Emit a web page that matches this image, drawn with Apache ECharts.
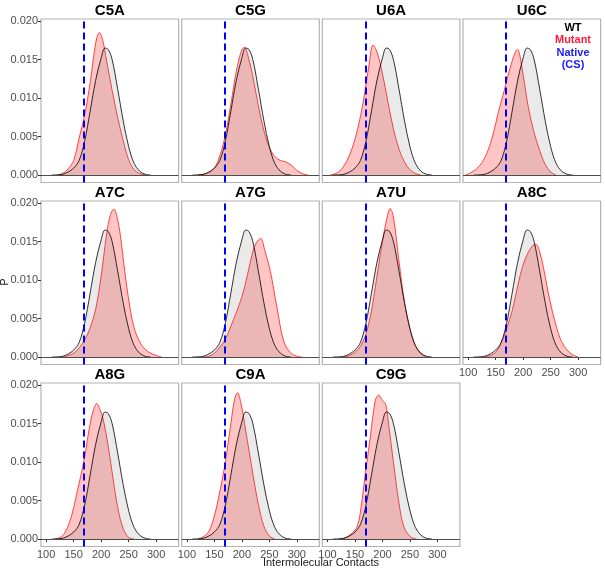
<!DOCTYPE html>
<html>
<head>
<meta charset="utf-8">
<script src="https://cdn.jsdelivr.net/npm/echarts@6/dist/echarts.min.js"></script>
<style>html,body{margin:0;padding:0;background:#fff}#c{width:605px;height:570px}</style>
</head>
<body>
<div id="c"></div>
<script>
// ---- data ----
const panelNames = ['C5A','C5G','U6A','U6C','A7C','A7G','A7U','A8C','A8G','C9A','C9G'];
const nativeCS = 169;
const xTicks = [100,150,200,250,300];
const yTicks = [0,0.005,0.010,0.015,0.020];

const wtX = [110,120,130,140,150,160,170,180,190,200,207,213,220,230,240,250,260,270,280,290];
const wtY = [0,0.00002,0.0001,0.0004,0.0009,0.0019,0.0044,0.0083,0.0123,0.0152,0.0165,0.0163,0.0150,0.0112,0.0071,0.0037,0.0015,0.0005,0.0001,0];

const xC5A = [120,130,140,150,160,170,180,186,192,197,203,210,220,230,240,250,260,270,280];
const yC5A = [0,0.0002,0.0008,0.0019,0.0048,0.0078,0.0120,0.0152,0.0178,0.0185,0.0175,0.0148,0.0110,0.0075,0.0045,0.0020,0.0007,0.0002,0];
const xC5G = [120,130,140,150,160,170,180,190,200,205,210,220,230,240,250,260,270,280,290,300,310,320];
const yC5G = [0,0.0001,0.0003,0.0009,0.0025,0.0052,0.0092,0.0135,0.0163,0.0166,0.0158,0.0128,0.0090,0.0058,0.0036,0.0024,0.0019,0.0017,0.0013,0.0006,0.0002,0];
const xU6A = [105,115,125,135,145,155,165,175,183,190,200,210,220,230,240,250,260,270];
const yU6A = [0,0.0002,0.0007,0.0018,0.0035,0.0060,0.0095,0.0140,0.0169,0.0160,0.0132,0.0095,0.0060,0.0034,0.0017,0.0007,0.0002,0];
const xU6C = [95,105,115,125,135,145,155,165,172,180,186,190,195,200,210,220,230,240,250,260];
const yU6C = [0,0.0003,0.0008,0.0016,0.0030,0.0052,0.0082,0.0108,0.0128,0.0148,0.0160,0.0163,0.0152,0.0130,0.0086,0.0055,0.0032,0.0014,0.0004,0];
const xA7C = [130,140,150,160,170,180,190,200,210,217,223,228,235,243,252,260,270,280,290,300,310];
const yA7C = [0,0.0002,0.0005,0.0012,0.0022,0.0038,0.0062,0.0105,0.0160,0.0185,0.0192,0.0185,0.0158,0.0111,0.0066,0.0038,0.0020,0.0010,0.0005,0.0002,0];
const xA7G = [130,140,150,160,170,180,190,200,210,220,226,234,242,252,264,276,288,300,310];
const yA7G = [0,0.0001,0.0005,0.0013,0.0023,0.0040,0.0058,0.0078,0.0106,0.0137,0.0148,0.0154,0.0138,0.0111,0.0064,0.0021,0.0006,0.0001,0];
const xA7U = [130,140,150,160,170,180,190,200,208,214,220,230,240,250,260,270,280];
const yA7U = [0,0.0002,0.0006,0.0014,0.0030,0.0060,0.0105,0.0150,0.0180,0.0193,0.0182,0.0125,0.0072,0.0036,0.0014,0.0004,0];
const xA8C = [130,140,150,160,170,180,190,200,210,218,224,230,237,249,261,270,280,290,300];
const yA8C = [0,0.0002,0.0006,0.0018,0.0037,0.0060,0.0092,0.0120,0.0137,0.0145,0.0146,0.0137,0.0116,0.0072,0.0038,0.0020,0.0009,0.0003,0];
const xA8G = [115,122,132,144,156,169,180,187,192,198,204,213,222,231,240,250,260];
const yA8G = [0,0.0001,0.0006,0.0025,0.0060,0.0103,0.0150,0.0170,0.0176,0.0168,0.0155,0.0120,0.0077,0.0038,0.0014,0.0002,0];
const xC9A = [120,130,140,150,160,170,180,187,192,198,205,210,220,230,240,250,260];
const yC9A = [0,0.0003,0.0010,0.0030,0.0062,0.0100,0.0150,0.0182,0.0190,0.0178,0.0150,0.0128,0.0085,0.0045,0.0017,0.0004,0];
const xC9G = [120,130,142,154,163,169,178,187,193,200,206,212,220,230,239,251,262];
const yC9G = [0,0.0001,0.0006,0.0016,0.0051,0.0086,0.0133,0.0180,0.0187,0.0180,0.0175,0.0145,0.0100,0.0047,0.0016,0.0003,0];

const mutX = [xC5A,xC5G,xU6A,xU6C,xA7C,xA7G,xA7U,xA8C,xA8G,xC9A,xC9G];
const mutY = [yC5A,yC5G,yU6A,yU6C,yA7C,yA7G,yA7U,yA8C,yA8G,yC9A,yC9G];

// ---- layout ----
const FONT = 'Liberation Sans, Arial, Helvetica, sans-serif';
const colLeft = [41, 181.7, 322.3, 463];
const rowTop = [19, 201, 383];
const PW = 137.6, PH = 163.5;
const XMIN = 90.6, XMAX = 340.9, YMIN = -0.00097, YMAX = 0.02027;
const xLabelPanels = [7, 8, 9, 10];

const zip = (a, b) => a.map((v, i) => [v, b[i]]);

const grids = [], xAxes = [], yAxes = [], series = [], graphics = [];
panelNames.forEach((name, i) => {
  const col = i % 4, row = Math.floor(i / 4);
  const left = colLeft[col], top = rowTop[row];
  grids.push({left: left, top: top, width: PW, height: PH, show: true,
    borderColor: '#b3b3b3', borderWidth: 1.2, backgroundColor: 'transparent', containLabel: false});
  const showX = xLabelPanels.includes(i);
  const showY = col === 0;
  xAxes.push({type: 'value', gridIndex: i, min: XMIN, max: XMAX,
    axisLine: {show: false}, splitLine: {show: false},
    axisTick: {show: showX, length: 3, lineStyle: {color: '#333', width: 1}, customValues: xTicks},
    axisLabel: {show: showX, customValues: xTicks, margin: 3, color: '#4d4d4d', fontSize: 11, fontFamily: FONT}});
  yAxes.push({type: 'value', gridIndex: i, min: YMIN, max: YMAX,
    axisLine: {show: false}, splitLine: {show: false},
    axisTick: {show: showY, length: 3, lineStyle: {color: '#333', width: 1}, customValues: yTicks},
    axisLabel: {show: showY, customValues: yTicks, margin: 3, color: '#4d4d4d', fontSize: 11, fontFamily: FONT,
      formatter: v => v.toFixed(3)}});
  series.push({type: 'line', name: 'Mutant', xAxisIndex: i, yAxisIndex: i,
    data: zip(mutX[i], mutY[i]), symbol: 'none', smooth: 0.35, z: 2,
    lineStyle: {color: '#ff1a1a', width: 0.8}, areaStyle: {color: 'rgba(255,0,0,0.33)'}});
  series.push({type: 'line', name: 'WT', xAxisIndex: i, yAxisIndex: i,
    data: zip(wtX, wtY), symbol: 'none', smooth: 0.35, z: 3,
    lineStyle: {color: '#000', width: 0.8}, areaStyle: {color: 'rgba(100,100,100,0.19)'},
    markLine: {symbol: 'none', silent: true, animation: false, label: {show: false},
      data: [
        {yAxis: 0, lineStyle: {color: '#4d4d4d', type: 'solid', width: 1}},
        {xAxis: nativeCS, lineStyle: {color: '#0000ff', type: [7, 4], width: 2}}
      ]}});
  graphics.push({type: 'text', x: left + PW / 2, y: top - 8,
    style: {text: name, font: 'bold 15px ' + FONT, fill: '#000', textAlign: 'center', textVerticalAlign: 'middle'}});
});

// legend text inside U6C panel
const legendItems = [['WT', '#000'], ['Mutant', '#ff1a3c'], ['Native', '#1a1aff'], ['(CS)', '#1a1aff']];
legendItems.forEach((it, k) => {
  graphics.push({type: 'text', x: 573, y: 28 + k * 12.3,
    style: {text: it[0], font: 'bold 11px ' + FONT, fill: it[1], textAlign: 'center', textVerticalAlign: 'middle'}, z: 10});
});
// axis titles
graphics.push({type: 'text', x: 321, y: 563,
  style: {text: 'Intermolecular Contacts', font: '11px ' + FONT, fill: '#1a1a1a', textAlign: 'center', textVerticalAlign: 'middle'}});
graphics.push({type: 'text', x: 5, y: 282, rotation: Math.PI / 2,
  style: {text: 'P', font: '11px ' + FONT, fill: '#1a1a1a', textAlign: 'center', textVerticalAlign: 'middle'}});

const chart = echarts.init(document.getElementById('c'), null, {renderer: 'canvas'});
chart.setOption({
  animation: false,
  backgroundColor: '#fff',
  grid: grids, xAxis: xAxes, yAxis: yAxes, series: series, graphic: graphics
});
</script>
</body>
</html>
